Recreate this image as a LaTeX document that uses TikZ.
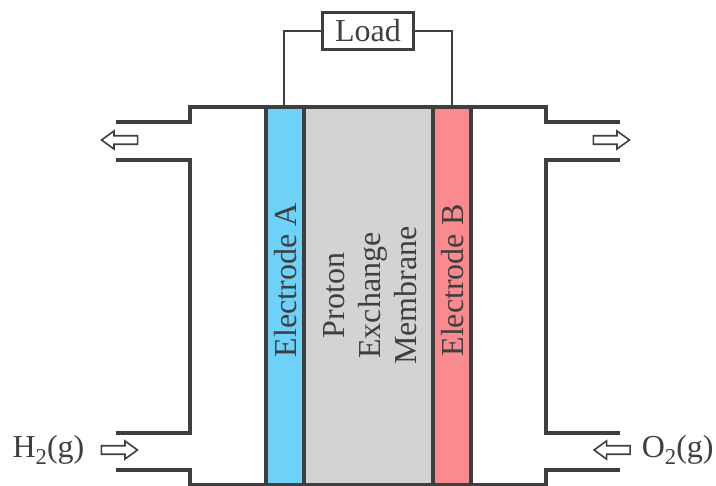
\documentclass[tikz,border=0pt]{standalone}
\usepackage{fontspec}
\setmainfont{Liberation Serif}
\usetikzlibrary{positioning,shapes.arrows}
\definecolor{linegrey}{HTML}{3F3F41}
\definecolor{electrodeblue}{HTML}{6DD1F8}
\definecolor{electrodered}{HTML}{F98B8F}
\definecolor{membranegrey}{HTML}{D1D3D4}
\newcommand{\gasindex}[1]{\raisebox{-5pt}{\fontsize{17}{17}\selectfont #1}}
\tikzset{wall/.style={draw=linegrey,line width=3pt},
            wire/.style={draw=linegrey,line width=1.9pt},
            layer/.style={draw=linegrey,line width=3pt,minimum height=283pt,inner sep=0pt},
            layer text/.style={rotate=90,text=linegrey,font=\fontsize{24}{27}\selectfont},
            flow/.style={single arrow,draw=linegrey,line width=1.2pt,fill=white,minimum height=27pt,minimum width=13.5pt,single arrow head extend=3.6pt,inner sep=2.6pt,single arrow tip angle=72},
            gas/.style={text=linegrey,inner sep=0pt,font=\fontsize{24}{27}\selectfont},
            }

\begin{document}
\begin{tikzpicture}[x=0.75pt,y=-0.75pt]
    \useasboundingbox (0,0) rectangle (716,485);

    \node[layer,fill=membranegrey,minimum width=129*0.75pt] (membrane) at (368.5,296) {};
    \node[layer,fill=electrodeblue,minimum width=38*0.75pt] (elA) at (285,296) {};
    \node[layer,fill=electrodered,minimum width=38*0.75pt] (elB) at (452,296) {};
    \node[layer text] (labelA) at (286,280.5) {Electrode A};
    \node[layer text] (labelB) at (453,280.5) {Electrode B};
    \node[layer text,align=center] (labelM) at (370,295.5) {Proton\\Exchange\\Membrane};

    \node[draw=linegrey,line width=2pt,minimum width=68pt,minimum height=28pt,inner sep=0pt,text=linegrey,font=\fontsize{24}{27}\selectfont] (load) at (368,31) {Load};

    \coordinate (topA) at (284,107);
    \coordinate (topB) at (452,107);

    \node[flow,shape border rotate=180] (outH) at (122.5,140) {};
    \node[flow,shape border rotate=0] (outO) at (608.5,140) {};
    \node[flow,shape border rotate=0] (inH) at (116.5,450) {};
    \node[flow,shape border rotate=180] (inO) at (615,450) {};
    \node[gas,left = 12pt of inH] (H2) {H\gasindex{2}(g)};
    \node[gas,right = 8pt of inO] (O2) {O\gasindex{2}(g)};

    \path[wire]
    (load.west) -| (topA)
    (load.east) -| (topB);

    % upper and lower walls
    \path[wall,line join=miter]
    (116,122) -- (190,122) -- (190,107) -- (546,107) -- (546,122) -- (620,122)
    (116,160) -- (190,160) -- (190,433) -- (116,433)
    (620,160) -- (546,160) -- (546,433) -- (620,433)
    (116,470) -- (190,470) -- (190,485) -- (546,485) -- (546,470) -- (620,470);

\end{tikzpicture}
\end{document}
